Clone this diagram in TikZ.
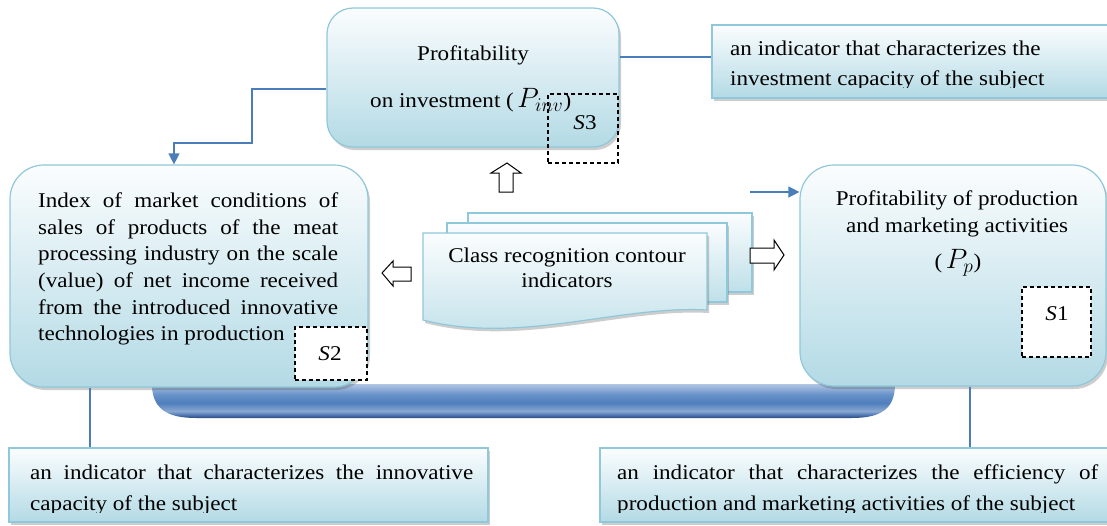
\documentclass[tikz,border=0pt]{standalone}
\usepackage{fontspec}
\setmainfont{Liberation Serif}[FakeStretch=1.1]
\usetikzlibrary{arrows.meta,shadows}

\definecolor{linkblue}{HTML}{4A7EBB}
\definecolor{edge}{HTML}{8FC8DA}
\definecolor{paleA}{HTML}{FBFDFE}
\definecolor{paleB}{HTML}{B3DAE5}
\definecolor{barA}{HTML}{2A4A7C}
\definecolor{barB}{HTML}{4670AD}
\definecolor{barC}{HTML}{8AA8D2}
\definecolor{barD}{HTML}{4F7FBD}
\definecolor{barE}{HTML}{6590C8}
\definecolor{barF}{HTML}{A4BCDF}
\definecolor{barG}{HTML}{B0C6E3}

% vertical shading of the base bar (25bp = bottom edge, 75bp = top edge)
\pgfdeclareverticalshading{barshade}{100bp}{color(0bp)=(barA); color(25bp)=(barA);
  color(29bp)=(barB); color(35bp)=(barC); color(47bp)=(barD); color(59bp)=(barE);
  color(72bp)=(barF); color(75bp)=(barG); color(100bp)=(barG)}

% larger math for the indicator symbols
\newcommand{\symb}[1]{\scalebox{1.35}{$#1$}}

\tikzset{
  softshadow/.style={drop shadow={shadow xshift=2pt, shadow yshift=-3pt, opacity=.28, fill=black!70}},
  panel/.style={draw=edge, line width=1.2pt, top color=paleA, bottom color=paleB, softshadow},
  bigbox/.style={panel, rounded corners=34pt},
  notebox/.style={panel, rectangle},
  sheet/.style={draw=edge, line width=1.2pt, top color=paleA, bottom color=paleB!85, softshadow},
  slot/.style={draw=black, line width=1.2pt, dash pattern=on 4pt off 3pt},
  link/.style={draw=linkblue, line width=1.3pt},
  linkarrow/.style={link, -{Triangle[length=11pt,width=11pt]}},
  hollow/.style={draw=black, line width=1pt, fill=white, line join=miter},
  body/.style={inner sep=0pt, font=\fontsize{21}{26.7}\selectfont},
}

\begin{document}
\begin{tikzpicture}[x=1pt,y=-1pt]
\useasboundingbox (0,0) rectangle (1107,525);
\clip (0,0) rectangle (1107,525);
\fill[white] (0,0) rectangle (1107,525);

% base bar joining the two side blocks
\shade[shading=barshade] (152,384) -- (895,384)
  .. controls (895,408) and (882,418) .. (852,418) -- (196,418)
  .. controls (166,418) and (152,408) .. (152,384) -- cycle;

% main blocks
\node[bigbox, rounded corners=26pt, minimum width=292pt, minimum height=139pt] (inv) at (473,77.5) {};
\node[bigbox, minimum width=358pt, minimum height=222pt] (mkt) at (189,276) {};
\node[bigbox, minimum width=306pt, minimum height=221pt] (prod) at (953,275.5) {};

% description panels
\node[notebox, minimum width=403pt, minimum height=73pt] (invnote) at (913.5,61.5) {};
\node[notebox, minimum width=479pt, minimum height=74pt] (mktnote) at (248.5,485) {};
\node[notebox, minimum width=510pt, minimum height=74pt] (prodnote) at (855,485) {};

% texts of the main blocks
\node[body, anchor=base] (invt1) at (473,60) {Profitability};
\node[body, anchor=base west] (invt2) at (370,107) {on investment (\,\symb{P_{inv}})};
\node[body, anchor=north west, text width=300pt, align=justify] (mktt) at (38,192.5)
  {\hyphenpenalty=10000 Index of market conditions of\linebreak
   sales of products of the meat\linebreak
   processing industry on the scale\linebreak
   (value) of net income received\linebreak
   from the introduced innovative\linebreak
   technologies in production};
\node[body, anchor=base] (prodt1) at (957,205) {Profitability of production};
\node[body, anchor=base] (prodt2) at (957,232) {and marketing activities};
\node[body, anchor=base] (prodt3) at (958,268) {(\,\symb{P_p})};

% texts of the description panels, cut at the panel's text area
\begin{scope}
  \clip (712,25) rectangle (1107,87);
  \node[body, anchor=north west, align=left, font=\fontsize{21}{30}\selectfont] (invnotet) at (730,40.5)
    {an indicator that characterizes the\\investment capacity of the subject};
\end{scope}
\begin{scope}
  \clip (9,448) rectangle (488,512);
  \node[body, anchor=north west, text width=443pt, align=justify, font=\fontsize{21}{31}\selectfont] (mktnotet) at (30,464.5)
    {an indicator that characterizes the innovative\linebreak capacity of the subject};
\end{scope}
\begin{scope}
  \clip (600,448) rectangle (1107,512);
  \node[body, anchor=north west, text width=481pt, align=justify, font=\fontsize{21}{31}\selectfont] (prodnotet) at (617,464.5)
    {an indicator that characterizes the efficiency of\linebreak production and marketing activities of the subject};
\end{scope}

% class slots
\node[slot, minimum width=70pt, minimum height=69pt] (s3) at (583,128.5) {};
\node[slot, fill=white, minimum width=72pt, minimum height=53pt] (s2) at (331,353.5) {};
\node[slot, fill=white, minimum width=69pt, minimum height=70pt] (s1) at (1056.5,322) {};
\node[body, anchor=base] at (585,129) {\textit{S}3};
\node[body, anchor=base] at (330,360) {\textit{S}2};
\node[body, anchor=base] at (1057,320) {\textit{S}1};

% stacked sheets in the centre
\path[sheet] (468,213) rectangle (752,292);
\path[sheet] (447,223) rectangle (727,302);
\path[sheet] (423,233) -- (707,233) -- (707,310)
  .. controls (620,305) and (520,345) .. (423,320) -- cycle;
\node[body, anchor=base] (clst1) at (567,262) {Class recognition contour};
\node[body, anchor=base] (clst2) at (567,287) {indicators};

% hollow block arrows
\draw[hollow] (507,163) -- (521,173) -- (513,173) -- (513,192) -- (499,192) -- (499,173) -- (491,173) -- cycle;
\draw[hollow] (382,273) -- (393,261) -- (393,267) -- (411,267) -- (411,281) -- (393,281) -- (393,286) -- cycle;
\draw[hollow] (784,255) -- (774,240) -- (774,248) -- (750,248) -- (750,263) -- (774,263) -- (774,270) -- cycle;

% connectors
\draw[link] (inv.east |- 0,57) -- (invnote.west |- 0,57);
\draw[linkarrow] (inv.west |- 0,89) -| (252,143) -| (mkt.north -| 174,0);
\coordinate (feed) at (750,192);
\draw[linkarrow] (feed) -- (prod.west |- feed);
\draw[link] (mkt.south -| 90,0) -- (mktnote.north -| 90,0);
\draw[link] (prod.south -| 970,0) -- (prodnote.north -| 970,0);
\end{tikzpicture}
\end{document}
